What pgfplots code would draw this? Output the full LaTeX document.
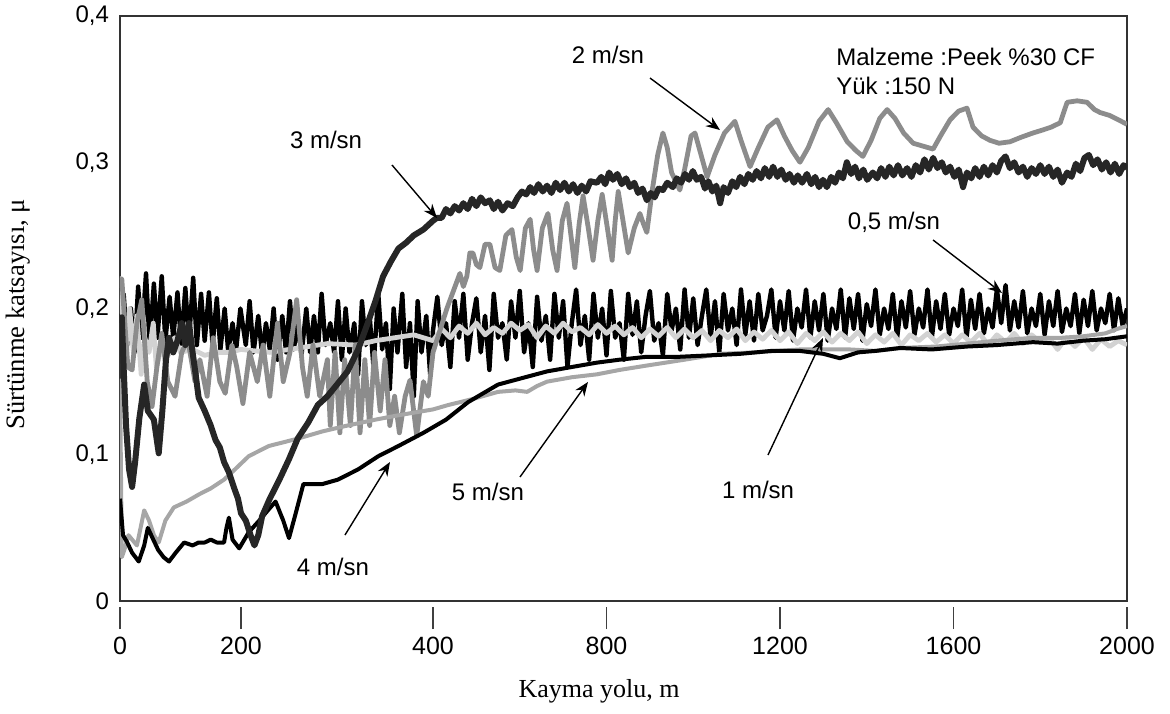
\documentclass[border=0pt]{standalone}
\usepackage{pgfplots}
\pgfplotsset{compat=1.18}
\usepackage{fontspec}
\setmainfont{Liberation Sans}
\newfontfamily\seriffont{Liberation Serif}
\usetikzlibrary{arrows.meta}
\definecolor{c05}{HTML}{000000}
\definecolor{c1}{HTML}{D2D2D2}
\definecolor{c2}{HTML}{8C8C8C}
\definecolor{c3}{HTML}{262626}
\definecolor{c4}{HTML}{000000}
\definecolor{c5}{HTML}{A6A6A6}
\begin{document}
\begin{tikzpicture}
\useasboundingbox (-60pt,-56pt) rectangle (525pt,300.5pt);
\begin{axis}[
  at={(0,0)}, anchor=south west,
  scale only axis, width=503.5pt, height=292.5pt,
  xmin=0, xmax=2000, ymin=0, ymax=0.4,
  x coord trafo/.code={\pgfmathparse{#1<200 ? #1*0.605 : (#1<400 ? 121+(#1-200)*0.96 : 313+(#1-400)*0.43375)}},
  xtick={0,200,400,800,1200,1600,2000},
  xticklabels={0,200,400,800,1200,1600,2000},
  ytick={0,0.1,0.2,0.3,0.4},
  xtick pos=bottom, tick align=outside,
  major tick length=11pt,
  xtick style={draw=black!75, line width=0.8pt, yshift=-3pt},
  ytick style={draw=none},
  axis line style={draw=black!80, line width=1pt},
  /pgf/number format/assume math mode=true,
  yticklabel style={/pgf/number format/fixed, /pgf/number format/precision=1, /pgf/number format/use comma, font=\fontsize{12}{12}\selectfont, xshift=9pt},
  xticklabel style={font=\fontsize{12.5}{12.5}\selectfont, yshift=-3.5pt},
  xlabel={Kayma yolu, m},
  ylabel={Sürtünme katsayısı, μ},
  xlabel style={font=\seriffont\fontsize{13}{13}\selectfont, at={(axis description cs:0.4757,-0.155)}, anchor=center},
  ylabel style={font=\seriffont\fontsize{13.3}{13.3}\selectfont, at={(axis description cs:-0.1008,0.49)}, anchor=center},
  clip=true,
]
% 0,5 m/sn
\addplot[c05, line width=2.2pt, line join=round] coordinates {
(0,0.19) (6,0.21) (12,0.175) (18,0.2) (24,0.17) (30,0.215) (36,0.18) (43,0.224) (49,0.175) (56,0.217) (62,0.18) (69,0.222) (75,0.178) (82,0.208) (88,0.18) (95,0.211) (101,0.176) (108,0.214) (114,0.178) (121,0.221) (127,0.175) (134,0.21) (140,0.178) (147,0.211) (153,0.175) (160,0.207) (166,0.172) (173,0.2) (179,0.17) (186,0.19) (192,0.172) (199,0.2)
(205,0.175) (209,0.205) (213,0.17) (218,0.195) (222,0.168) (226,0.19) (230,0.172) (234,0.2) (238,0.165) (243,0.195) (247,0.17) (251,0.205) (255,0.172) (259,0.19) (263,0.168) (268,0.2) (272,0.17) (276,0.195) (280,0.17) (284,0.21) (288,0.175) (293,0.19) (297,0.17) (301,0.205) (305,0.165) (309,0.2) (313,0.17) (318,0.19) (322,0.155) (326,0.205) (330,0.175) (334,0.195) (338,0.16) (343,0.21) (347,0.172) (351,0.19) (355,0.145) (359,0.2) (363,0.17) (368,0.21) (372,0.16) (376,0.19) (380,0.14) (384,0.205) (388,0.17) (393,0.195) (397,0.155)
(400,0.185) (410,0.208) (420,0.175) (430,0.19) (440,0.16) (450,0.205) (460,0.18) (470,0.21) (480,0.165) (490,0.19) (500,0.207) (510,0.17) (520,0.195) (530,0.158) (540,0.21) (550,0.18) (560,0.19) (570,0.165) (580,0.205) (590,0.18) (600,0.212) (610,0.17) (620,0.19) (630,0.16) (640,0.208) (650,0.178) (660,0.195) (670,0.165) (680,0.21) (690,0.18) (700,0.205) (710,0.16) (720,0.19) (730,0.213) (740,0.175) (750,0.195) (760,0.165) (770,0.21) (780,0.18) (790,0.2) (800,0.168) (810,0.212) (820,0.18) (830,0.19) (840,0.165) (850,0.21) (860,0.182) (870,0.205) (880,0.17) (890,0.195) (900,0.212) (910,0.178) (920,0.19) (930,0.168) (940,0.21) (950,0.185) (960,0.2) (970,0.172) (980,0.213) (990,0.18) (1000,0.207) (1010,0.175) (1020,0.195) (1030,0.213) (1040,0.18) (1050,0.205) (1060,0.17) (1070,0.21) (1080,0.185) (1090,0.2) (1100,0.175) (1110,0.213) (1120,0.182) (1130,0.205) (1140,0.178) (1150,0.21) (1160,0.185) (1170,0.195) (1180,0.213) (1190,0.18) (1200,0.205) (1210,0.185) (1220,0.212) (1230,0.178) (1240,0.2) (1250,0.187) (1260,0.213) (1270,0.18) (1280,0.205) (1290,0.185) (1300,0.21) (1310,0.178) (1320,0.2) (1330,0.186) (1340,0.213) (1350,0.18) (1360,0.207) (1370,0.186) (1380,0.21) (1390,0.178) (1400,0.203) (1410,0.188) (1420,0.213) (1430,0.182) (1440,0.2) (1450,0.186) (1460,0.21) (1470,0.18) (1480,0.205) (1490,0.187) (1500,0.212) (1510,0.182) (1520,0.2) (1530,0.187) (1540,0.213) (1550,0.18) (1560,0.205) (1570,0.186) (1580,0.21) (1590,0.182) (1600,0.2) (1610,0.188) (1620,0.213) (1630,0.18) (1640,0.206) (1650,0.186) (1660,0.21) (1670,0.183) (1680,0.2) (1690,0.187) (1700,0.213) (1710,0.19) (1720,0.216) (1730,0.185) (1740,0.205) (1750,0.187) (1760,0.212) (1770,0.183) (1780,0.2) (1790,0.188) (1800,0.21) (1810,0.182) (1820,0.205) (1830,0.188) (1840,0.212) (1850,0.184) (1860,0.2) (1870,0.188) (1880,0.21) (1890,0.183) (1900,0.206) (1910,0.188) (1920,0.212) (1930,0.185) (1940,0.2) (1950,0.19) (1960,0.21) (1970,0.185) (1980,0.207) (1990,0.188) (2000,0.2)
};
% 1 m/sn
\addplot[c1, line width=2.4pt, line join=round] coordinates {
(0,0.222) (5,0.19) (10,0.165) (16,0.2) (22,0.17) (28,0.195) (35,0.155) (41,0.18) (48,0.17) (55,0.19) (60,0.16) (70,0.175) (80,0.168) (90,0.18) (100,0.17) (120,0.172) (140,0.168) (160,0.17) (180,0.17) (200,0.172) (230,0.17) (260,0.173) (290,0.176) (320,0.175) (340,0.178) (360,0.18)
(380,0.182) (400,0.178) (420,0.186) (440,0.18) (460,0.188) (480,0.183) (500,0.19) (520,0.182) (540,0.187) (560,0.183) (580,0.19) (600,0.185) (620,0.189) (640,0.18) (660,0.188) (680,0.183) (700,0.19) (720,0.184) (740,0.187) (760,0.182) (780,0.189) (800,0.183) (820,0.188) (840,0.182) (860,0.187) (880,0.18) (900,0.186) (920,0.181) (940,0.187) (960,0.18) (980,0.186) (1000,0.18) (1020,0.185) (1040,0.178) (1060,0.185) (1080,0.18) (1100,0.186) (1120,0.178) (1140,0.184) (1160,0.179) (1180,0.185) (1200,0.178) (1220,0.184) (1240,0.176) (1260,0.183) (1280,0.178) (1300,0.184) (1320,0.177) (1340,0.183) (1360,0.178) (1380,0.184) (1400,0.176) (1420,0.182) (1440,0.177) (1460,0.183) (1480,0.175) (1500,0.182) (1520,0.178) (1540,0.183) (1560,0.177) (1580,0.182) (1600,0.176) (1620,0.182) (1640,0.177) (1660,0.183) (1680,0.175) (1700,0.182) (1720,0.177) (1740,0.183) (1760,0.176) (1780,0.182) (1800,0.177) (1820,0.18) (1840,0.172) (1860,0.18) (1880,0.174) (1900,0.18) (1920,0.172) (1940,0.179) (1960,0.174) (1980,0.178) (2000,0.175)
};
% 2 m/sn
\addplot[c2, line width=2.4pt, line join=round] coordinates {
(0,0.215) (3,0.22) (8,0.19) (13,0.16) (20,0.158) (28,0.19) (36,0.206) (45,0.15) (53,0.133) (61,0.16) (69,0.183) (79,0.15) (91,0.14) (102,0.17) (112,0.179) (124,0.15) (132,0.165) (144,0.14) (154,0.18) (165,0.15) (174,0.142) (185,0.175) (193,0.16) (202,0.135) (209,0.17) (217,0.15) (223,0.175) (230,0.14) (238,0.19) (244,0.15) (251,0.17) (258,0.206) (264,0.16) (269,0.14) (275,0.175) (282,0.14) (290,0.165) (293,0.12) (298,0.17) (303,0.115) (308,0.165) (314,0.12) (319,0.175) (324,0.115) (329,0.165) (334,0.12) (339,0.17) (345,0.13) (350,0.165) (355,0.12) (360,0.14) (365,0.115) (371,0.14) (376,0.151) (383,0.113) (390,0.15) (395,0.14) (400,0.17)
(416,0.185) (432,0.2) (447,0.212) (462,0.224) (470,0.215) (478,0.222) (485,0.238) (492,0.238) (500,0.23) (508,0.228) (520,0.244) (531,0.244) (543,0.228) (554,0.226) (568,0.25) (582,0.254) (592,0.235) (601,0.226) (613,0.255) (624,0.261) (632,0.24) (640,0.226) (652,0.255) (665,0.265) (676,0.24) (686,0.226) (698,0.26) (709,0.272) (718,0.25) (727,0.228) (737,0.258) (746,0.277) (758,0.255) (769,0.233) (780,0.26) (790,0.278) (802,0.255) (813,0.233) (820,0.26) (827,0.28) (838,0.26) (850,0.238) (864,0.255) (877,0.265) (885,0.258) (893,0.252) (905,0.28) (918,0.305) (930,0.32) (940,0.31) (950,0.293) (969,0.281) (980,0.295) (995,0.318) (1004,0.32) (1018,0.305) (1032,0.29) (1050,0.305) (1072,0.32) (1096,0.328) (1110,0.315) (1131,0.297) (1150,0.31) (1172,0.324) (1193,0.329) (1210,0.318) (1228,0.308) (1246,0.3) (1265,0.31) (1290,0.328) (1311,0.336) (1330,0.327) (1355,0.314) (1375,0.308) (1391,0.304) (1410,0.315) (1430,0.33) (1447,0.336) (1465,0.33) (1485,0.32) (1507,0.313) (1530,0.311) (1553,0.309) (1570,0.318) (1592,0.329) (1612,0.335) (1631,0.337) (1645,0.324) (1665,0.318) (1684,0.315) (1705,0.313) (1730,0.314) (1755,0.317) (1783,0.32) (1805,0.322) (1825,0.324) (1846,0.327) (1855,0.335) (1862,0.341) (1885,0.342) (1908,0.341) (1925,0.336) (1938,0.334) (1960,0.332) (1980,0.329) (2000,0.326)
};
% 5 m/sn
\addplot[c5, line width=2pt, line join=round] coordinates {
(0,0.152) (3,0.03) (8,0.036) (14,0.045) (20,0.042) (28,0.038) (34,0.05) (40,0.062) (48,0.055) (56,0.045) (64,0.04) (75,0.055) (89,0.064) (110,0.068) (131,0.073) (150,0.077) (172,0.083) (190,0.09) (208,0.099) (229,0.106) (259,0.111) (285,0.116) (311,0.12) (340,0.124) (364,0.127) (400,0.131) (435,0.134) (490,0.138) (550,0.143) (590,0.144) (617,0.143) (640,0.147) (663,0.15) (720,0.153) (778,0.155) (830,0.158) (893,0.161) (980,0.165) (1063,0.169) (1140,0.17) (1246,0.172) (1361,0.172) (1420,0.171) (1477,0.173) (1560,0.174) (1631,0.176) (1700,0.178) (1783,0.18) (1850,0.18) (1899,0.181) (1950,0.183) (1977,0.186) (2000,0.188)
};
% 4 m/sn
\addplot[c4, line width=2pt, line join=round] coordinates {
(0,0.07) (5,0.045) (12,0.04) (20,0.033) (31,0.027) (40,0.038) (46,0.05) (55,0.042) (63,0.035) (72,0.03) (81,0.027) (92,0.033) (106,0.04) (120,0.038) (130,0.04) (140,0.04) (150,0.042) (160,0.04) (172,0.04) (176,0.05) (180,0.057) (186,0.042) (197,0.036) (208,0.047) (219,0.055) (228,0.062) (236,0.068) (244,0.055) (250,0.043) (257,0.06) (265,0.08) (275,0.08) (285,0.08) (301,0.083) (322,0.09) (343,0.099) (364,0.106) (390,0.115) (430,0.124) (481,0.136) (550,0.148) (600,0.152) (663,0.157) (720,0.16) (778,0.163) (830,0.165) (893,0.167) (969,0.167) (1040,0.168) (1108,0.169) (1180,0.171) (1246,0.171) (1300,0.169) (1338,0.166) (1380,0.17) (1420,0.171) (1477,0.173) (1550,0.172) (1631,0.174) (1700,0.175) (1783,0.177) (1840,0.176) (1899,0.178) (1950,0.179) (2000,0.181)
};
% 3 m/sn
\addplot[c3, line width=3pt, line join=round] coordinates {
(0,0.19) (3,0.194) (6,0.16) (10,0.12) (15,0.09) (20,0.078) (25,0.095) (32,0.125) (40,0.148) (46,0.13) (56,0.124) (64,0.101) (70,0.13) (76,0.165) (81,0.18) (88,0.17) (95,0.178) (102,0.19) (108,0.175) (114,0.19) (120,0.17) (125,0.155) (130,0.139) (140,0.13) (150,0.12) (158,0.11) (165,0.105) (172,0.095) (180,0.088) (188,0.078) (195,0.07) (200,0.06) (205,0.055) (210,0.045) (214,0.038) (218,0.045) (222,0.058) (230,0.07) (240,0.083) (250,0.097) (259,0.111) (270,0.122) (280,0.134) (290,0.14) (300,0.148) (311,0.157) (322,0.172) (332,0.19) (340,0.205) (348,0.222) (356,0.232) (364,0.241) (372,0.245) (380,0.25) (390,0.254) (400,0.26)
(409,0.262) (420,0.262) (430,0.268) (440,0.265) (450,0.27) (460,0.267) (470,0.272) (480,0.268) (490,0.275) (500,0.27) (510,0.276) (520,0.272) (531,0.274) (540,0.268) (550,0.273) (560,0.267) (572,0.272) (584,0.27) (595,0.276) (605,0.28) (615,0.278) (624,0.283) (633,0.279) (643,0.285) (653,0.28) (663,0.284) (673,0.279) (683,0.286) (693,0.281) (703,0.286) (713,0.28) (723,0.285) (733,0.279) (743,0.284) (753,0.28) (763,0.287) (778,0.286) (788,0.29) (797,0.285) (806,0.293) (815,0.288) (825,0.292) (835,0.285) (845,0.289) (854,0.283) (864,0.286) (873,0.279) (883,0.282) (893,0.274) (902,0.279) (911,0.276) (920,0.282) (930,0.281) (940,0.286) (953,0.283) (962,0.289) (972,0.286) (981,0.292) (990,0.288) (999,0.294) (1008,0.288) (1018,0.29) (1027,0.282) (1035,0.287) (1044,0.28) (1053,0.284) (1062,0.272) (1070,0.283) (1080,0.279) (1090,0.287) (1099,0.283) (1108,0.29) (1118,0.285) (1127,0.292) (1137,0.288) (1146,0.294) (1156,0.289) (1165,0.296) (1175,0.29) (1184,0.297) (1194,0.29) (1203,0.295) (1213,0.288) (1222,0.292) (1232,0.286) (1241,0.291) (1251,0.286) (1262,0.292) (1272,0.285) (1281,0.29) (1290,0.283) (1299,0.288) (1308,0.283) (1318,0.29) (1327,0.286) (1336,0.293) (1345,0.289) (1354,0.3) (1364,0.292) (1373,0.297) (1382,0.289) (1392,0.295) (1401,0.288) (1414,0.293) (1424,0.289) (1433,0.296) (1443,0.29) (1452,0.297) (1462,0.291) (1472,0.298) (1482,0.291) (1493,0.296) (1503,0.29) (1513,0.298) (1523,0.293) (1533,0.302) (1543,0.295) (1553,0.303) (1563,0.296) (1573,0.3) (1582,0.293) (1592,0.297) (1602,0.29) (1612,0.295) (1622,0.283) (1631,0.293) (1641,0.289) (1650,0.296) (1660,0.29) (1670,0.297) (1680,0.291) (1690,0.298) (1700,0.293) (1710,0.301) (1720,0.304) (1730,0.296) (1740,0.3) (1750,0.293) (1760,0.297) (1770,0.29) (1780,0.296) (1790,0.292) (1800,0.298) (1810,0.292) (1820,0.297) (1830,0.29) (1840,0.295) (1850,0.286) (1862,0.293) (1872,0.29) (1882,0.299) (1892,0.294) (1902,0.303) (1912,0.305) (1922,0.298) (1932,0.302) (1942,0.295) (1952,0.3) (1962,0.293) (1972,0.299) (1982,0.292) (1992,0.298) (2000,0.296)
};
% annotations
\begin{scope}[font=\fontsize{12}{12}\selectfont]
\node at (rel axis cs:0.4846,0.9333) {2 m/sn};
\node at (rel axis cs:0.2046,0.7880) {3 m/sn};
\node at (rel axis cs:0.7686,0.6479) {0,5 m/sn};
\node at (rel axis cs:0.3654,0.1863) {5 m/sn};
\node at (rel axis cs:0.6336,0.1897) {1 m/sn};
\node at (rel axis cs:0.2115,0.0581) {4 m/sn};
\node[anchor=base west, inner sep=0pt] at (rel axis cs:0.7110,0.9162) {Malzeme :Peek \%30 CF};
\node[anchor=base west, inner sep=0pt] at (rel axis cs:0.7110,0.8650) {Yük :150 N};
\end{scope}
\begin{scope}[line width=0.7pt, -{Stealth[length=7pt,width=5.5pt]}]
\draw (rel axis cs:0.5263,0.8940) -- (rel axis cs:0.5958,0.8051);
\draw (rel axis cs:0.2701,0.7453) -- (rel axis cs:0.3148,0.6547);
\draw (rel axis cs:0.8074,0.6171) -- (rel axis cs:0.8759,0.5265);
\draw (rel axis cs:0.3972,0.2120) -- (rel axis cs:0.4647,0.3744);
\draw (rel axis cs:0.6435,0.2496) -- (rel axis cs:0.6981,0.4496);
\draw (rel axis cs:0.2234,0.1128) -- (rel axis cs:0.2681,0.2376);
\end{scope}
\end{axis}
\end{tikzpicture}
\end{document}
